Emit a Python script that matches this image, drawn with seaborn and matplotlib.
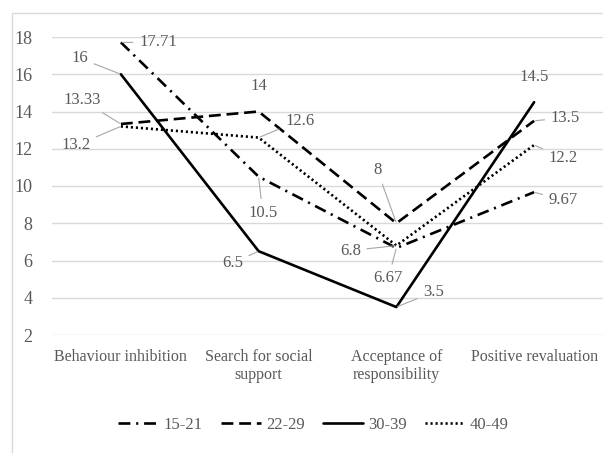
import numpy as np
import matplotlib.pyplot as plt
import pandas as pd
import seaborn as sns
from matplotlib.patches import Rectangle

categories = ['Behaviour inhibition', 'Search for social\nsupport',
              'Acceptance of\nresponsibility', 'Positive revaluation']
groups = ['15-21', '22-29', '30-39', '40-49']
g15_21 = [17.71, 10.5, 6.67, 9.67]
g22_29 = [13.33, 14, 8, 13.5]
g30_39 = [16, 6.5, 3.5, 14.5]
g40_49 = [13.2, 12.6, 6.8, 12.2]
series = [g15_21, g22_29, g30_39, g40_49]

rows = []
for g, vals in zip(groups, series):
    for c, v in zip(categories, vals):
        rows.append({'category': c, 'value': v, 'group': g})
df = pd.DataFrame(rows)

sns.set_style('white')
plt.rcParams['font.family'] = ['Liberation Serif', 'DejaVu Serif']

fig = plt.figure(figsize=(6.03, 4.53), dpi=100)
ax = fig.add_axes([52/603, 1-335/453, 551/603, 298/453])

dashes = {'15-21': (4.5, 2.2, 0.8, 2.2), '22-29': (4.5, 2.2), '30-39': '', '40-49': (0.8, 1.1)}
sns.lineplot(data=df, x='category', y='value', hue='group', style='group',
             palette=['black']*4, dashes=dashes, sort=False, lw=1.9, ax=ax,
             legend=True)

ax.set_ylim(2, 18)
ax.set_xlim(-0.5, 3.5)
ax.set_yticks(np.arange(2, 19, 2))
ax.grid(axis='y', color='#d9d9d9', lw=1)
ax.set_axisbelow(True)
for s in ax.spines.values():
    s.set_visible(False)
ax.tick_params(length=0, labelsize=11.5, colors='#595959')
ax.tick_params(axis='x', pad=10)
ax.tick_params(axis='y', pad=14, labelsize=13)
ax.set_xlabel('')
ax.set_ylabel('')

# data labels: (series index, category index, offset px, leader)
labels = [
    (0, 0, (37, 0), True), (0, 1, (4, -36), True), (0, 2, (-8, -30), True), (0, 3, (29, -8), True),
    (1, 0, (-39, 24), True), (1, 1, (0, 25), False), (1, 2, (-19, 53), True), (1, 3, (31, 3), True),
    (2, 0, (-41, 16), True), (2, 1, (-26, -12), True), (2, 2, (37, 15), True), (2, 3, (0, 25), False),
    (3, 0, (-45, -19), True), (3, 1, (41, 17), True), (3, 2, (-46, -5), True), (3, 3, (29, -13), True),
]
for si, ci, off, lead in labels:
    v = series[si][ci]
    ap = dict(arrowstyle='-', color='#a6a6a6', lw=0.8, shrinkA=2, shrinkB=1) if lead else None
    ax.annotate(f'{v:g}', xy=(ci, v), xytext=off, textcoords='offset pixels',
                ha='center', va='center', fontsize=12, color='#595959',
                arrowprops=ap)

handles, labs = ax.get_legend_handles_labels()
leg = fig.legend(handles, labs, loc='center', bbox_to_anchor=(0.52, 1-425/453), ncol=4,
                 frameon=False, fontsize=12, handlelength=2.4, columnspacing=1.1,
                 handletextpad=0.3)
for t in leg.get_texts():
    t.set_color('#595959')
if ax.get_legend():
    ax.get_legend().remove()

fig.patches.append(Rectangle((12/603, -0.1), 1.2, 1-13/453+0.1, transform=fig.transFigure,
                             fill=False, edgecolor='#d9d9d9', lw=1))

plt.savefig('out.png', dpi=100)
